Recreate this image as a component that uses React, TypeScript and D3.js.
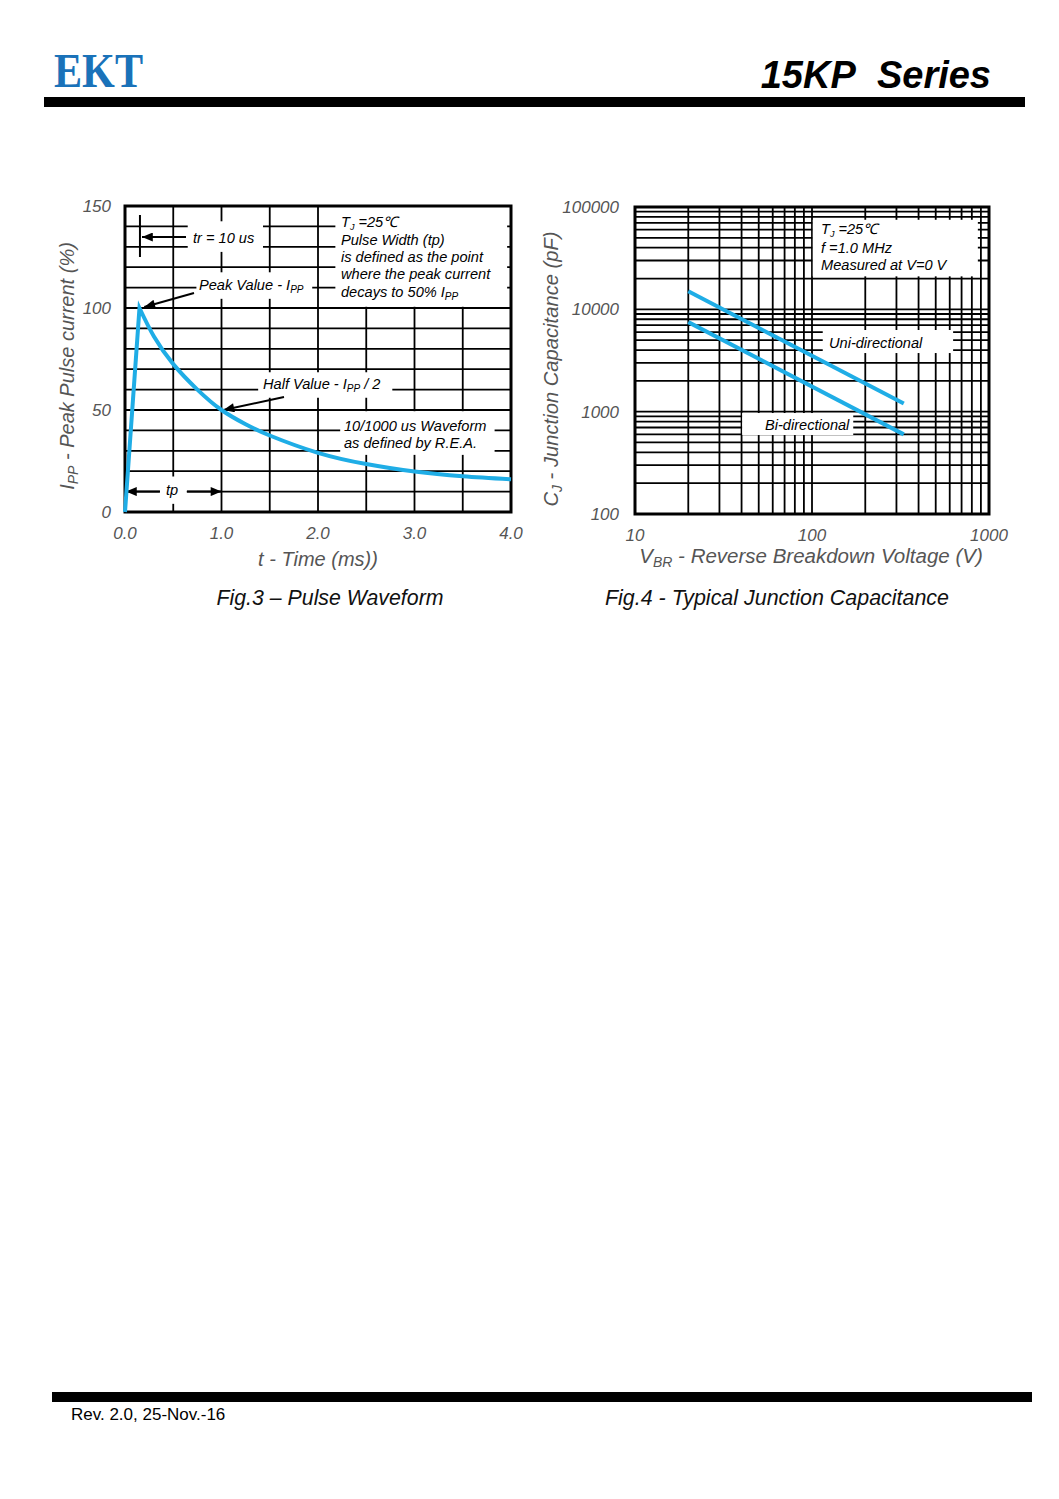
import React from 'react';
import * as d3 from 'd3';

// ---- Fig.3 Pulse Waveform data ----
const pulseTime = [0, 0.15, 0.3, 0.5, 0.75, 1.0, 1.25, 1.5, 2.0, 2.5, 3.0, 3.5, 4.0];
const pulseCurrent = [0, 100, 86, 72.5, 60, 50, 43, 37.5, 29, 23.5, 19.8, 17.5, 16];
const pulseXTicks = [0, 1, 2, 3, 4];
const pulseYTicks = [0, 50, 100, 150];

// ---- Fig.4 Junction Capacitance data ----
const capVoltage = [20, 330];
const capUni = [15000, 1200];
const capBi = [7500, 600];
const capXTicks = [10, 100, 1000];
const capYTicks = [100, 1000, 10000, 100000];

const SANS = '"Liberation Sans", Arial, Helvetica, sans-serif';
const BLUE = '#1fade6';
const GRAY = '#555555';

function logGrid(lo: number, hi: number): number[] {
  const out: number[] = [];
  for (let d = lo; d < hi; d *= 10) {
    for (let k = 1; k < 10; k++) out.push(k * d);
  }
  out.push(hi);
  return out;
}

export default function App() {
  // Fig.3 scales
  const x3 = d3.scaleLinear().domain([0, 4]).range([125, 511]);
  const y3 = d3.scaleLinear().domain([0, 150]).range([512, 206]);
  // Fig.4 scales
  const x4 = d3.scaleLog().domain([10, 1000]).range([635, 989]);
  const y4 = d3.scaleLog().domain([100, 100000]).range([514, 207]);

  const pts: [number, number][] = pulseTime.map((t, i) => [x3(t), y3(pulseCurrent[i])]);
  const decay = d3.line().curve(d3.curveNatural)(pts.slice(1)) as string;
  const pulseD = `M${pts[0][0]},${pts[0][1]}L${decay.slice(1)}`;

  const lineGen = d3.line();
  const uniD = lineGen(capVoltage.map((v, i) => [x4(v), y4(capUni[i])])) as string;
  const biD = lineGen(capVoltage.map((v, i) => [x4(v), y4(capBi[i])])) as string;

  const g3x = d3.range(0, 4.001, 0.5);
  const g3y = d3.range(0, 150.1, 10);
  const g4x = logGrid(10, 1000);
  const g4y = logGrid(100, 100000);

  const box3 = [
    // [t0, t1, i0, i1]
    [0.65, 1.43, 127.5, 142.5],
    [0.74, 1.94, 104.5, 117.5],
    [2.18, 3.96, 100.6, 149.5],
    [1.38, 2.77, 56.0, 68.5],
    [2.23, 3.83, 28.0, 49.4],
    [0.36, 0.64, 4.0, 17.4],
  ];
  const box4 = [
    // [v0, v1, c0, c1]
    [101, 865, 21000, 75000],
    [115, 627, 3740, 6280],
    [40.3, 171, 591, 970],
  ];

  const txt = (extra: any = {}) => ({ fontFamily: SANS, fontStyle: 'italic', fill: '#000', fontSize: 14.6, ...extra });

  return (
    <svg width={1059} height={1499} style={{ position: 'absolute', left: 0, top: 0, background: '#fff' }}>
      <defs>
        <marker id="ah" viewBox="0 0 12 10" refX={12} refY={5} markerWidth={13} markerHeight={9}
          markerUnits="userSpaceOnUse" orient="auto">
          <path d="M0,0 L12,5 L0,10 z" fill="#000" />
        </marker>
      </defs>
      <rect x={0} y={0} width={1059} height={1499} fill="#fff" />

      {/* Header */}
      <text x={54} y={87} textLength={89} lengthAdjust="spacingAndGlyphs"
        style={{ fontFamily: '"Liberation Serif", "Times New Roman", serif', fontSize: 49, fontWeight: 'bold', fill: '#1a72b9' }}>EKT</text>
      <text x={991} y={88} textAnchor="end"
        style={{ fontFamily: SANS, fontSize: 38, fontWeight: 'bold', fontStyle: 'italic', fill: '#000' }}>15KP{'\u00a0\u00a0'}Series</text>
      <rect x={44} y={97} width={981} height={10} fill="#000" />

      {/* ================= Fig.3 ================= */}
      <g>
        {g3x.map((t) => (
          <line key={'vx' + t} x1={x3(t)} x2={x3(t)} y1={y3(0)} y2={y3(150)} stroke="#000" strokeWidth={1.8} />
        ))}
        {g3y.map((v) => (
          <line key={'hy' + v} x1={x3(0)} x2={x3(4)} y1={y3(v)} y2={y3(v)} stroke="#000" strokeWidth={1.8} />
        ))}
        {box3.map((b, i) => (
          <rect key={'b3' + i} x={x3(b[0])} y={y3(b[3])} width={x3(b[1]) - x3(b[0])} height={y3(b[2]) - y3(b[3])} fill="#fff" />
        ))}
        <rect x={x3(0)} y={y3(150)} width={x3(4) - x3(0)} height={y3(0) - y3(150)} fill="none" stroke="#000" strokeWidth={3} />

        {/* tr annotation */}
        <line x1={x3(0.155)} x2={x3(0.155)} y1={215} y2={257} stroke="#000" strokeWidth={2} />
        <line x1={186} x2={142} y1={237} y2={237} stroke="#000" strokeWidth={2} markerEnd="url(#ah)" />
        <text x={193} y={243} style={txt()}>tr = 10 us</text>

        {/* Peak annotation */}
        <line x1={194} x2={x3(0.2)} y1={293} y2={y3(100.5)} stroke="#000" strokeWidth={2} markerEnd="url(#ah)" />
        <text x={199} y={290} style={txt()}>Peak Value - I<tspan fontSize={10} dy={3}>PP</tspan></text>

        {/* Right description box */}
        <text x={341} y={227} style={txt()}>T<tspan fontSize={9} dy={3}>J</tspan><tspan dy={-3}> =25℃</tspan></text>
        <text x={341} y={245} style={txt()}>Pulse Width (tp)</text>
        <text x={341} y={262} style={txt()}>is defined as the point</text>
        <text x={341} y={279} style={txt()}>where the peak current</text>
        <text x={341} y={297} style={txt()}>decays to 50% I<tspan fontSize={10} dy={3}>PP</tspan></text>

        {/* Half value */}
        <line x1={284} x2={x3(1.02)} y1={397} y2={y3(50)} stroke="#000" strokeWidth={2} markerEnd="url(#ah)" />
        <text x={263} y={389} style={txt()}>Half Value - I<tspan fontSize={10} dy={3}>PP</tspan><tspan dy={-3}> / 2</tspan></text>

        {/* waveform text */}
        <text x={344} y={431} style={txt()}>10/1000 us Waveform</text>
        <text x={344} y={448} style={txt()}>as defined by R.E.A.</text>

        {/* tp arrows */}
        <line x1={160} x2={x3(0.01)} y1={y3(10)} y2={y3(10)} stroke="#000" strokeWidth={2} markerEnd="url(#ah)" />
        <line x1={187} x2={x3(1.0)} y1={y3(10)} y2={y3(10)} stroke="#000" strokeWidth={2} markerEnd="url(#ah)" />
        <text x={172} y={495} textAnchor="middle" style={txt()}>tp</text>

        {/* curve */}
        <path d={pulseD} fill="none" stroke={BLUE} strokeWidth={4} strokeLinejoin="miter" />

        {/* ticks */}
        {pulseYTicks.map((v) => (
          <text key={'yt3' + v} x={111} y={y3(v) + 6} textAnchor="end" style={txt({ fontSize: 17, fill: GRAY })}>{v}</text>
        ))}
        {pulseXTicks.map((t) => (
          <text key={'xt3' + t} x={x3(t)} y={539} textAnchor="middle" style={txt({ fontSize: 17, fill: GRAY })}>{t.toFixed(1)}</text>
        ))}
        <text x={318} y={566} textAnchor="middle" style={txt({ fontSize: 20, fill: GRAY })}>t - Time (ms))</text>
        <text transform="translate(74,366) rotate(-90)" textAnchor="middle" style={txt({ fontSize: 20, fill: GRAY })}>
          I<tspan fontSize={14} dy={4}>PP</tspan><tspan dy={-4}> - Peak Pulse current (%)</tspan>
        </text>
        <text x={330} y={605} textAnchor="middle" textLength={227} lengthAdjust="spacingAndGlyphs"
          style={txt({ fontSize: 22, fill: '#111' })}>Fig.3 – Pulse Waveform</text>
      </g>

      {/* ================= Fig.4 ================= */}
      <g>
        {g4x.map((v) => (
          <line key={'vx4' + v} x1={x4(v)} x2={x4(v)} y1={y4(100)} y2={y4(100000)} stroke="#000" strokeWidth={1.8} />
        ))}
        {g4y.map((v) => (
          <line key={'hy4' + v} x1={x4(10)} x2={x4(1000)} y1={y4(v)} y2={y4(v)} stroke="#000" strokeWidth={1.8} />
        ))}
        {box4.map((b, i) => (
          <rect key={'b4' + i} x={x4(b[0])} y={y4(b[3])} width={x4(b[1]) - x4(b[0])} height={y4(b[2]) - y4(b[3])} fill="#fff" />
        ))}
        <rect x={x4(10)} y={y4(100000)} width={x4(1000) - x4(10)} height={y4(100) - y4(100000)} fill="none" stroke="#000" strokeWidth={3} />

        <text x={821} y={234} style={txt()}>T<tspan fontSize={9} dy={3}>J</tspan><tspan dy={-3}> =25℃</tspan></text>
        <text x={821} y={253} style={txt()}>f =1.0 MHz</text>
        <text x={821} y={270} style={txt()}>Measured at V=0 V</text>
        <text x={829} y={348} style={txt()}>Uni-directional</text>
        <text x={765} y={430} style={txt()}>Bi-directional</text>

        <path d={uniD} fill="none" stroke={BLUE} strokeWidth={4} />
        <path d={biD} fill="none" stroke={BLUE} strokeWidth={4} />

        {capYTicks.map((v) => (
          <text key={'yt4' + v} x={619} y={y4(v) + 6} textAnchor="end" style={txt({ fontSize: 17, fill: GRAY })}>{v}</text>
        ))}
        {capXTicks.map((v) => (
          <text key={'xt4' + v} x={x4(v)} y={541} textAnchor="middle" style={txt({ fontSize: 17, fill: GRAY })}>{v}</text>
        ))}
        <text x={811} y={563} textAnchor="middle" style={txt({ fontSize: 20.5, fill: GRAY })}>
          V<tspan fontSize={14} dy={4}>BR</tspan><tspan dy={-4}> - Reverse Breakdown Voltage (V)</tspan>
        </text>
        <text transform="translate(558,369) rotate(-90)" textAnchor="middle" style={txt({ fontSize: 20.2, fill: GRAY })}>
          C<tspan fontSize={14} dy={4}>J</tspan><tspan dy={-4}> - Junction Capacitance (pF)</tspan>
        </text>
        <text x={777} y={605} textAnchor="middle" textLength={344} lengthAdjust="spacingAndGlyphs"
          style={txt({ fontSize: 22, fill: '#111' })}>Fig.4 - Typical Junction Capacitance</text>
      </g>

      {/* Footer */}
      <rect x={52} y={1392} width={980} height={10} fill="#000" />
      <text x={71} y={1420} style={{ fontFamily: SANS, fontSize: 17, fill: '#000' }}>Rev. 2.0, 25-Nov.-16</text>
    </svg>
  );
}
